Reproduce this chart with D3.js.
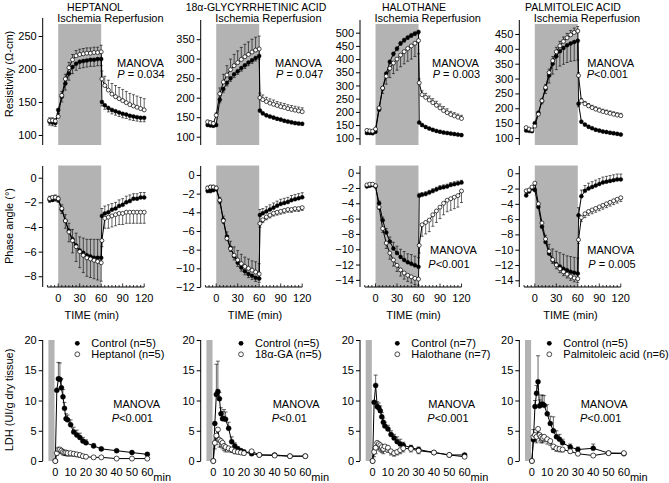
<!DOCTYPE html>
<html><head><meta charset="utf-8">
<script src="https://cdn.jsdelivr.net/npm/d3@7"></script>
<style>
body{margin:0;background:#fff}
svg{display:block;font-family:"Liberation Sans",Arial,Helvetica,sans-serif}
</style></head>
<body><svg width="669" height="483"></svg>
<script>
// ---------- DATA ----------
const titles = ["HEPTANOL","18α-GLYCYRRHETINIC ACID","HALOTHANE","PALMITOLEIC ACID"];
const drugNames = ["Heptanol (n=5)","18α-GA (n=5)","Halothane (n=7)","Palmitoleic acid (n=6)"];
const ctrlNames = ["Control (n=5)","Control (n=5)","Control (n=7)","Control (n=5)"];
const pRes = ["P = 0.034","P = 0.047","P = 0.003","P<0.001"];
const pPhase = [null,null,"P<0.001","P = 0.005"];
const pLdh = ["P<0.001","P<0.01","P<0.001","P<0.001"];

const resTicks = [[100,150,200,250],[100,150,200,250,300,350],[100,150,200,250,300,350,400,450,500],[100,150,200,250,300,350,400,450]];
const phTicks = [[0,-2,-4,-6,-8],[0,-2,-4,-6,-8,-10,-12],[0,-2,-4,-6,-8,-10,-12,-14],[0,-2,-4,-6,-8,-10,-12,-14]];
const ldhTicks = [0,5,10,15,20];
const timeTicks = [0,30,60,90,120];
const ldhTimeTicks = [0,10,20,30,40,50,60];

// time (min) of resistivity / phase samples
const tRP = [-12,-8,-4,0,5,10,15,20,25,30,35,40,45,50,55,60,61,65,70,75,80,85,90,95,100,105,110,115,120];

// Resistivity (ohm-cm)
const resHepC  = [120,119,118,138,158,178,193,203,208,211,212,213,214,214,215,215,150,145,141,138,136,134,132,131,129,128,127,126,126];
const resHepCe = [-5,-5,-5,-6,-8,-10,-10,-10,-10,-10,-10,-10,-10,-10,-10,-10,-6,-6,-6,-6,-6,-6,-6,-6,-6,-6,-6,-6,-6];
const resHepT  = [122,122,121,128,160,185,202,214,220,222,223,224,224,225,225,226,185,175,168,162,158,155,152,149,146,144,142,140,138];
const resHepTe = [4,4,4,5,6,7,8,8,8,8,8,8,8,8,8,10,12,14,15,16,17,17,17,17,17,17,17,17,17];

const resGaC  = [130,129,128,130,195,222,238,250,260,268,276,283,290,296,302,307,167,160,155,152,149,146,144,141,139,137,135,134,133];
const resGaCe = [-3,-3,-3,-4,-8,-8,-8,-8,-8,-8,-8,-8,-8,-8,-8,-8,-4,-4,-4,-4,-4,-4,-4,-4,-4,-4,-4,-4,-4];
const resGaT  = [138,136,134,155,210,240,258,272,282,290,298,305,311,317,322,325,200,195,190,186,183,180,177,175,172,170,168,166,164];
const resGaTe = [4,4,4,6,15,20,24,27,29,30,31,32,32,33,33,33,12,12,11,11,11,10,10,10,10,10,10,10,10];

const resHalC  = [120,120,119,125,210,290,345,390,420,440,460,472,482,490,497,503,160,150,143,137,132,128,125,122,120,118,116,114,112];
const resHalCe = [-4,-4,-4,-5,-8,-8,-8,-8,-8,-8,-8,-8,-8,-8,-8,-8,-5,-5,-5,-5,-5,-5,-5,-5,-5,-5,-5,-5,-5];
const resHalT  = [130,128,127,135,215,290,335,365,385,400,415,428,440,450,460,470,310,265,255,245,235,225,215,205,197,190,185,180,175];
const resHalTe = [-4,-4,-4,-5,-10,-20,-30,-35,-40,-42,-44,-46,-48,-50,-50,-50,15,15,15,15,15,15,15,15,15,12,12,12,12];

const resPalC  = [125,124,123,150,185,225,265,310,350,375,392,403,412,418,423,427,215,155,145,138,133,128,125,122,120,118,116,114,112];
const resPalCe = [-3,-3,-3,-5,-8,-10,-15,-25,-35,-45,-50,-55,-58,-60,-63,-65,-10,-5,-5,-5,-5,-5,-5,-5,-5,-5,-5,-5,-5];
const resPalT  = [135,130,127,140,180,225,270,320,360,390,410,425,437,447,455,460,310,225,215,208,202,197,193,189,186,183,180,177,175];
const resPalTe = [3,3,3,5,6,8,10,12,14,15,15,15,15,15,15,15,10,8,8,8,8,8,8,8,8,8,8,8,8];

// Phase angle (deg)
const phHepC  = [-1.8,-1.8,-1.7,-1.8,-2.6,-3.5,-4.3,-5.0,-5.5,-5.9,-6.1,-6.3,-6.4,-6.5,-6.5,-6.5,-3.1,-2.9,-2.8,-2.6,-2.5,-2.3,-2.2,-2.0,-1.9,-1.7,-1.7,-1.6,-1.6];
const phHepCe = [0.3,0.3,0.3,0.3,0.4,0.5,0.6,0.8,1.0,1.1,1.2,1.3,1.4,1.5,1.5,1.5,0.6,0.6,0.6,0.5,0.5,0.5,0.5,0.5,0.5,0.4,0.4,0.4,0.4];
const phHepT  = [-1.7,-1.6,-1.6,-1.7,-2.5,-3.5,-4.4,-5.1,-5.6,-6.0,-6.3,-6.5,-6.6,-6.7,-6.8,-6.9,-5.1,-3.3,-3.2,-3.1,-3.0,-2.9,-2.9,-2.8,-2.8,-2.8,-2.8,-2.8,-2.8];
const phHepTe = [-0.3,-0.3,-0.3,-0.3,-0.4,-0.6,-0.8,-1.0,-1.2,-1.3,-1.4,-1.5,-1.5,-1.5,-1.5,-1.5,-0.5,-0.8,-0.9,-0.9,-0.9,-0.9,-0.9,-0.9,-0.9,-0.9,-0.9,-0.9,-0.9];

const phGaC  = [-1.7,-1.7,-1.6,-1.5,-2.8,-4.8,-6.6,-7.8,-8.7,-9.4,-9.9,-10.3,-10.6,-10.8,-11.0,-11.1,-4.3,-4.1,-3.9,-3.7,-3.5,-3.3,-3.1,-3.0,-2.9,-2.7,-2.6,-2.5,-2.4];
const phGaCe = [-0.2,-0.2,-0.2,-0.2,-0.3,-0.4,-0.4,-0.4,-0.4,-0.4,-0.4,-0.4,-0.4,-0.4,-0.4,-0.4,0.6,0.5,0.5,0.5,0.5,0.5,0.5,0.5,0.5,0.5,0.5,0.5,0.5];
const phGaT  = [-1.4,-1.3,-1.3,-1.4,-2.7,-4.9,-6.8,-7.9,-8.6,-9.1,-9.5,-9.8,-10.0,-10.2,-10.4,-10.6,-5.2,-4.8,-4.5,-4.3,-4.1,-4.0,-3.9,-3.8,-3.7,-3.7,-3.6,-3.6,-3.5];
const phGaTe = [0.2,0.2,0.2,0.2,0.3,0.5,0.7,0.8,0.9,1.0,1.0,1.0,1.0,1.0,1.1,1.1,-0.4,-0.3,-0.3,-0.3,-0.3,-0.3,-0.3,-0.3,-0.3,-0.3,-0.3,-0.3,-0.3];

const phHalC  = [-1.8,-1.7,-1.6,-1.8,-4.0,-6.2,-7.8,-9.0,-9.9,-10.5,-11.0,-11.4,-11.7,-11.9,-12.1,-12.3,-3.0,-2.9,-2.8,-2.6,-2.4,-2.2,-2.0,-1.9,-1.8,-1.6,-1.5,-1.4,-1.3];
const phHalCe = [0.2,0.2,0.2,0.2,0.3,0.4,0.5,0.6,0.8,0.9,1.0,1.1,1.1,1.2,1.2,1.2,0.3,0.3,0.3,0.3,0.3,0.3,0.3,0.3,0.3,0.3,0.3,0.3,0.3];
const phHalT  = [-1.6,-1.5,-1.5,-1.7,-4.5,-7.3,-9.2,-10.5,-11.4,-12.1,-12.7,-13.1,-13.4,-13.6,-13.8,-13.9,-9.5,-6.8,-6.5,-6.2,-5.5,-5.0,-4.5,-4.0,-3.6,-3.4,-3.2,-3.0,-2.4];
const phHalTe = [-0.2,-0.2,-0.2,-0.2,-0.3,-0.5,-0.7,-0.8,-0.8,-0.8,-0.8,-0.8,-0.8,-0.8,-0.8,-0.8,-1.0,-1.5,-1.5,-1.5,-1.5,-1.5,-1.5,-1.5,-1.5,-1.5,-1.5,-1.5,-1.5];

const phPalC  = [-2.9,-2.4,-2.0,-2.2,-4.4,-7.0,-9.0,-10.5,-11.4,-11.9,-12.2,-12.5,-12.7,-12.9,-13.0,-13.1,-5.5,-3.0,-2.3,-2.0,-1.8,-1.6,-1.4,-1.2,-1.1,-1.0,-0.9,-0.8,-0.8];
const phPalCe = [0.3,0.3,0.3,0.3,0.4,0.6,0.9,1.2,1.5,1.7,1.8,1.9,1.9,2.0,2.0,2.0,1.0,0.8,0.7,0.7,0.7,0.7,0.7,0.7,0.7,0.7,0.7,0.7,0.7];
const phPalT  = [-2.3,-2.2,-1.8,-1.3,-4.0,-6.5,-8.6,-10.2,-11.3,-12.0,-12.5,-12.9,-13.2,-13.5,-13.7,-13.8,-8.7,-5.8,-5.3,-5.0,-4.8,-4.6,-4.4,-4.2,-4.0,-3.8,-3.6,-3.4,-3.2];
const phPalTe = [-0.3,-0.3,-0.3,-0.3,-0.3,-0.4,-0.4,-0.4,-0.5,-0.5,-0.5,-0.5,-0.5,-0.5,-0.5,-0.5,-0.5,-0.5,-0.5,-0.5,-0.5,-0.5,-0.5,-0.5,-0.5,-0.5,-0.5,-0.5,-0.5];

// LDH release (UI/g dry tissue)
const tLDH = [0,1,2,3,4,5,6,7,8,10,12,14,16,18,20,25,30,40,50,60];
const ldhHepC  = [0,11.7,13.6,13.5,12.1,10.6,8.7,7.0,6.8,6.0,4.8,4.3,3.9,3.3,3.0,2.5,2.0,1.7,1.4,1.1];
const ldhHepCe = [0,0,2.7,2.7,1.5,1.2,1.0,0.8,0.8,0.8,0.8,0.8,0.7,0.6,0.5,0.4,0.3,0.2,0.2,0.2];
const ldhHepT  = [0,1.3,1.9,1.9,1.7,1.5,1.4,1.4,1.3,1.3,1.2,1.1,1.0,0.8,0.7,0.6,0.6,0.4,0.4,0.4];
const ldhHepTe = [0,-0.4,-0.6,-0.6,-0.5,-0.5,-0.5,-0.5,-0.5,-0.5,-0.4,-0.4,-0.4,-0.3,-0.3,-0.2,-0.2,-0.1,-0.1,-0.1];

const ldhGaC  = [0,6.2,11.0,11.5,10.3,7.8,7.0,7.0,6.9,5.4,3.2,2.5,2.0,1.7,1.5,1.2,1.0,1.0,0.8,0.8];
const ldhGaCe = [0,0,5.0,5.0,1.0,1.0,1.2,1.5,1.2,1.0,0.8,0.5,0.4,0.3,0.3,0.2,0.2,0.2,0.1,0.1];
const ldhGaT  = [0,3.0,4.2,5.2,3.5,3.3,3.0,2.5,2.3,2.1,1.9,1.6,1.5,1.4,1.3,1.6,1.0,0.9,0.8,0.8];
const ldhGaTe = [0,-1.0,-1.5,-2.0,-1.2,-1.0,-1.0,-0.8,-0.8,-0.6,-0.5,-0.4,-0.3,-0.3,-0.3,-0.3,-0.2,-0.2,-0.1,-0.1];

const ldhHalC  = [0,9.7,12.5,9.0,8.8,8.3,7.3,6.4,5.8,5.3,4.4,3.8,3.2,2.8,2.6,2.2,1.9,1.4,1.0,1.0];
const ldhHalCe = [0,0,1.7,0.8,0.8,0.8,0.7,0.7,0.6,0.6,0.6,0.6,0.8,0.8,0.5,0.4,0.4,0.3,0.2,0.2];
const ldhHalT  = [0,1.5,2.2,3.0,2.8,2.6,2.3,2.0,2.4,2.2,1.6,1.3,1.5,1.8,2.1,2.0,1.7,1.4,1.0,0.7];
const ldhHalTe = [0,-0.8,-1.0,-1.0,-1.0,-1.0,-0.9,-0.8,-0.8,-0.8,-0.6,-0.5,-0.5,-0.6,-0.6,-0.5,-0.5,-0.3,-0.2,-0.2];

const ldhPalC  = [0,3.5,9.0,11.2,13.1,9.1,9.4,9.4,9.2,7.8,6.2,5.0,4.0,3.6,3.0,2.3,1.9,2.1,1.3,1.2];
const ldhPalCe = [0,0,1.0,1.3,4.3,1.0,1.5,1.5,1.6,1.5,1.2,2.3,1.0,0.8,0.6,0.5,0.4,0.7,0.2,0.2];
const ldhPalT  = [0,4.0,4.3,4.0,5.3,4.3,4.0,3.8,4.0,3.6,3.3,2.4,2.1,2.0,1.9,1.6,1.2,0.9,1.3,1.3];
const ldhPalTe = [0,1.2,-1.0,-1.0,-1.2,-1.0,-1.0,-0.8,-0.8,-0.8,-0.7,-0.5,-0.5,-0.5,-0.4,-0.3,-0.3,-0.2,-0.2,-0.2];

const resData = [[resHepC,resHepCe,resHepT,resHepTe],[resGaC,resGaCe,resGaT,resGaTe],[resHalC,resHalCe,resHalT,resHalTe],[resPalC,resPalCe,resPalT,resPalTe]];
const phData  = [[phHepC,phHepCe,phHepT,phHepTe],[phGaC,phGaCe,phGaT,phGaTe],[phHalC,phHalCe,phHalT,phHalTe],[phPalC,phPalCe,phPalT,phPalTe]];
const ldhData = [[ldhHepC,ldhHepCe,ldhHepT,ldhHepTe],[ldhGaC,ldhGaCe,ldhGaT,ldhGaTe],[ldhHalC,ldhHalCe,ldhHalT,ldhHalTe],[ldhPalC,ldhPalCe,ldhPalT,ldhPalTe]];

// ---------- LAYOUT ----------
const svg = d3.select("svg");
const FS = 11;
const GRAY = "#b3b3b3";
const axisX = [42.7, 200.7, 360, 519.3];
const titleX = [95, 256, 414, 573];
const resDomain = [[84.8,277.3],[78.7,399.2],[74.6,548],[76.4,497]];
const resTop = [18,20,20,20];
const RES_BOT = 145;
const phDomain = [[-8.87,0.95],[-12.0,0.96],[-14.93,0.87],[-14.88,0.95]];
const PH_TOP = 166, PH_BOT = 287;
const LDH_TOP = 340, LDH_BOT = 461;
const manRes = [[117,117.3],[275,276],[432,432.7],[587.3,586.7]];
const manPh = [null,null,[430,428.3],[587.3,588.3]];
const manLdh = [[113.3,111.7],[272.7,271.7],[428.3,427.3],[580.7,580]];
const legX = [77.3,241,397.3,549.3];
const timeLabX = [91.7,255,413.5,570.5];

function txt(g, x, y, s, anchor, size) {
  return g.append("text").attr("x",x).attr("y",y).attr("text-anchor",anchor||"start")
    .attr("font-size",size||FS).attr("fill","#000").text(s);
}
function pText(g, x, y, s) {
  const t = g.append("text").attr("x",x).attr("y",y).attr("font-size",FS).attr("fill","#000");
  t.append("tspan").attr("font-style","italic").text("P");
  t.append("tspan").text(s.slice(1));
}
function yAxis(g, ax, y, ticks, top, bot) {
  const a = g.append("g").attr("transform",`translate(${ax},0)`)
    .call(d3.axisLeft(y).tickValues(ticks).tickSize(4).tickPadding(2).tickFormat(d3.format("d")));
  a.select(".domain").attr("d",`M0,${top}V${bot}`).attr("stroke","#000").attr("stroke-width",1);
  a.selectAll(".tick line").attr("stroke","#000");
  a.selectAll(".tick text").attr("font-size",FS).attr("font-family",null).attr("fill","#000");
  a.attr("font-family",null);
}
function series(g, x, y, t, v, e, filled, r, capW) {
  const eb = g.append("g").attr("stroke","#000").attr("stroke-width",0.6);
  t.forEach((tt,i) => {
    if (!e[i]) return;
    const xx = x(tt), y0 = y(v[i]), y1 = y(v[i]+e[i]);
    eb.append("line").attr("x1",xx).attr("x2",xx).attr("y1",y0).attr("y2",y1);
    eb.append("line").attr("x1",xx-capW/2).attr("x2",xx+capW/2).attr("y1",y1).attr("y2",y1);
  });
  return () => {
    g.append("path").datum(t.map((tt,i)=>[tt,v[i]]))
      .attr("d", d3.line().x(d=>x(d[0])).y(d=>y(d[1])))
      .attr("fill","none").attr("stroke","#000").attr("stroke-width",1);
  };
}
function markers(g, x, y, t, v, filled, r) {
  g.selectAll(null).data(t.map((tt,i)=>[tt,v[i]])).join("circle")
    .attr("cx",d=>x(d[0])).attr("cy",d=>y(d[1])).attr("r",r)
    .attr("fill",filled?"#000":"#fff").attr("stroke","#000").attr("stroke-width",filled?0.4:0.7);
}
function panel(g, x, y, t, D, r, capW) {
  const l1 = series(g,x,y,t,D[0],D[1],true,r,capW);
  const l2 = series(g,x,y,t,D[2],D[3],false,r,capW);
  l1(); l2();
  markers(g,x,y,t,D[0],true,r);
  markers(g,x,y,t,D[2],false,r);
}

// y-axis titles
function vlabel(x, cy, s) {
  svg.append("text").attr("transform",`translate(${x},${cy}) rotate(-90)`)
    .attr("text-anchor","middle").attr("font-size",FS).attr("fill","#000").text(s);
}
vlabel(12.5, 74, "Resistivity (Ω-cm)");
vlabel(12.5, 226, "Phase angle (°)");
vlabel(12.5, 400, "LDH (UI/g dry tissue)");

for (let c = 0; c < 4; c++) {
  const g = svg.append("g");
  const ax = axisX[c];
  const x0 = ax + 15.5;
  const xt = d3.scaleLinear().domain([0,30]).range([x0, x0+21.5]);

  // titles
  txt(g, titleX[c], 10.5, titles[c], "middle", 10.5);
  txt(g, xt(0)-1, 21.5, "Ischemia Reperfusion", "start");

  // ---- Row 1: resistivity
  const yr = d3.scaleLinear().domain(resDomain[c]).range([RES_BOT, resTop[c]]);
  g.append("rect").attr("x",xt(0)).attr("width",xt(60)-xt(0)).attr("y",24).attr("height",RES_BOT-24).attr("fill",GRAY);
  yAxis(g, ax, yr, resTicks[c], resTop[c], RES_BOT);
  panel(g, xt, yr, tRP, resData[c], 2, 3);
  txt(g, manRes[c][0], 66.5, "MANOVA");
  pText(g, manRes[c][1], 78, pRes[c]);

  // ---- Row 2: phase angle
  const yp = d3.scaleLinear().domain(phDomain[c]).range([PH_BOT, PH_TOP]);
  g.append("rect").attr("x",xt(0)).attr("width",xt(60)-xt(0)).attr("y",165.5).attr("height",PH_BOT-165.5).attr("fill",GRAY);
  yAxis(g, ax, yp, phTicks[c], PH_TOP, PH_BOT);
  // x axis with inward ticks
  const xa = g.append("g").attr("stroke","#000").attr("stroke-width",0.8);
  xa.append("line").attr("x1",xt(-15)).attr("x2",xt(120)).attr("y1",PH_BOT).attr("y2",PH_BOT).attr("stroke-width",1);
  d3.range(-15,121,5).forEach(tt => {
    const major = timeTicks.includes(tt);
    xa.append("line").attr("x1",xt(tt)).attr("x2",xt(tt)).attr("y1",PH_BOT).attr("y2",PH_BOT-(major?3.5:2));
  });
  timeTicks.forEach(tt => txt(g, xt(tt), 302, String(tt), "middle"));
  txt(g, timeLabX[c], 318.5, "TIME (min)", "middle");
  panel(g, xt, yp, tRP, phData[c], 2, 3);
  if (pPhase[c]) {
    txt(g, manPh[c][0], 254, "MANOVA");
    pText(g, manPh[c][1], 268.3, pPhase[c]);
  }

  // ---- Row 3: LDH
  const xl = d3.scaleLinear().domain([0,60]).range([ax+12.6, ax+12.6+92]);
  const yl = d3.scaleLinear().domain([0,20]).range([LDH_BOT, LDH_TOP]);
  g.append("rect").attr("x",xl(-4.5)).attr("width",xl(-0.5)-xl(-4.5)).attr("y",yl(20)).attr("height",yl(0)-yl(20)).attr("fill",GRAY);
  yAxis(g, ax, yl, ldhTicks, LDH_TOP, LDH_BOT);
  ldhTimeTicks.forEach(tt => txt(g, xl(tt), 475.5, String(tt), "middle"));
  txt(g, xl(60)+6, 481, "min", "start");
  panel(g, xl, yl, tLDH, ldhData[c], 2.5, 4);
  txt(g, manLdh[c][0], 408.3, "MANOVA");
  pText(g, manLdh[c][1], 421.7, pLdh[c]);
  // legend
  g.append("circle").attr("cx",legX[c]).attr("cy",343.3).attr("r",2.4).attr("fill","#000");
  g.append("circle").attr("cx",legX[c]).attr("cy",354.3).attr("r",2.4).attr("fill","#fff").attr("stroke","#000").attr("stroke-width",0.7);
  txt(g, legX[c]+14, 347.3, ctrlNames[c]);
  txt(g, legX[c]+14, 358.3, drugNames[c]);
}
</script></body></html>
